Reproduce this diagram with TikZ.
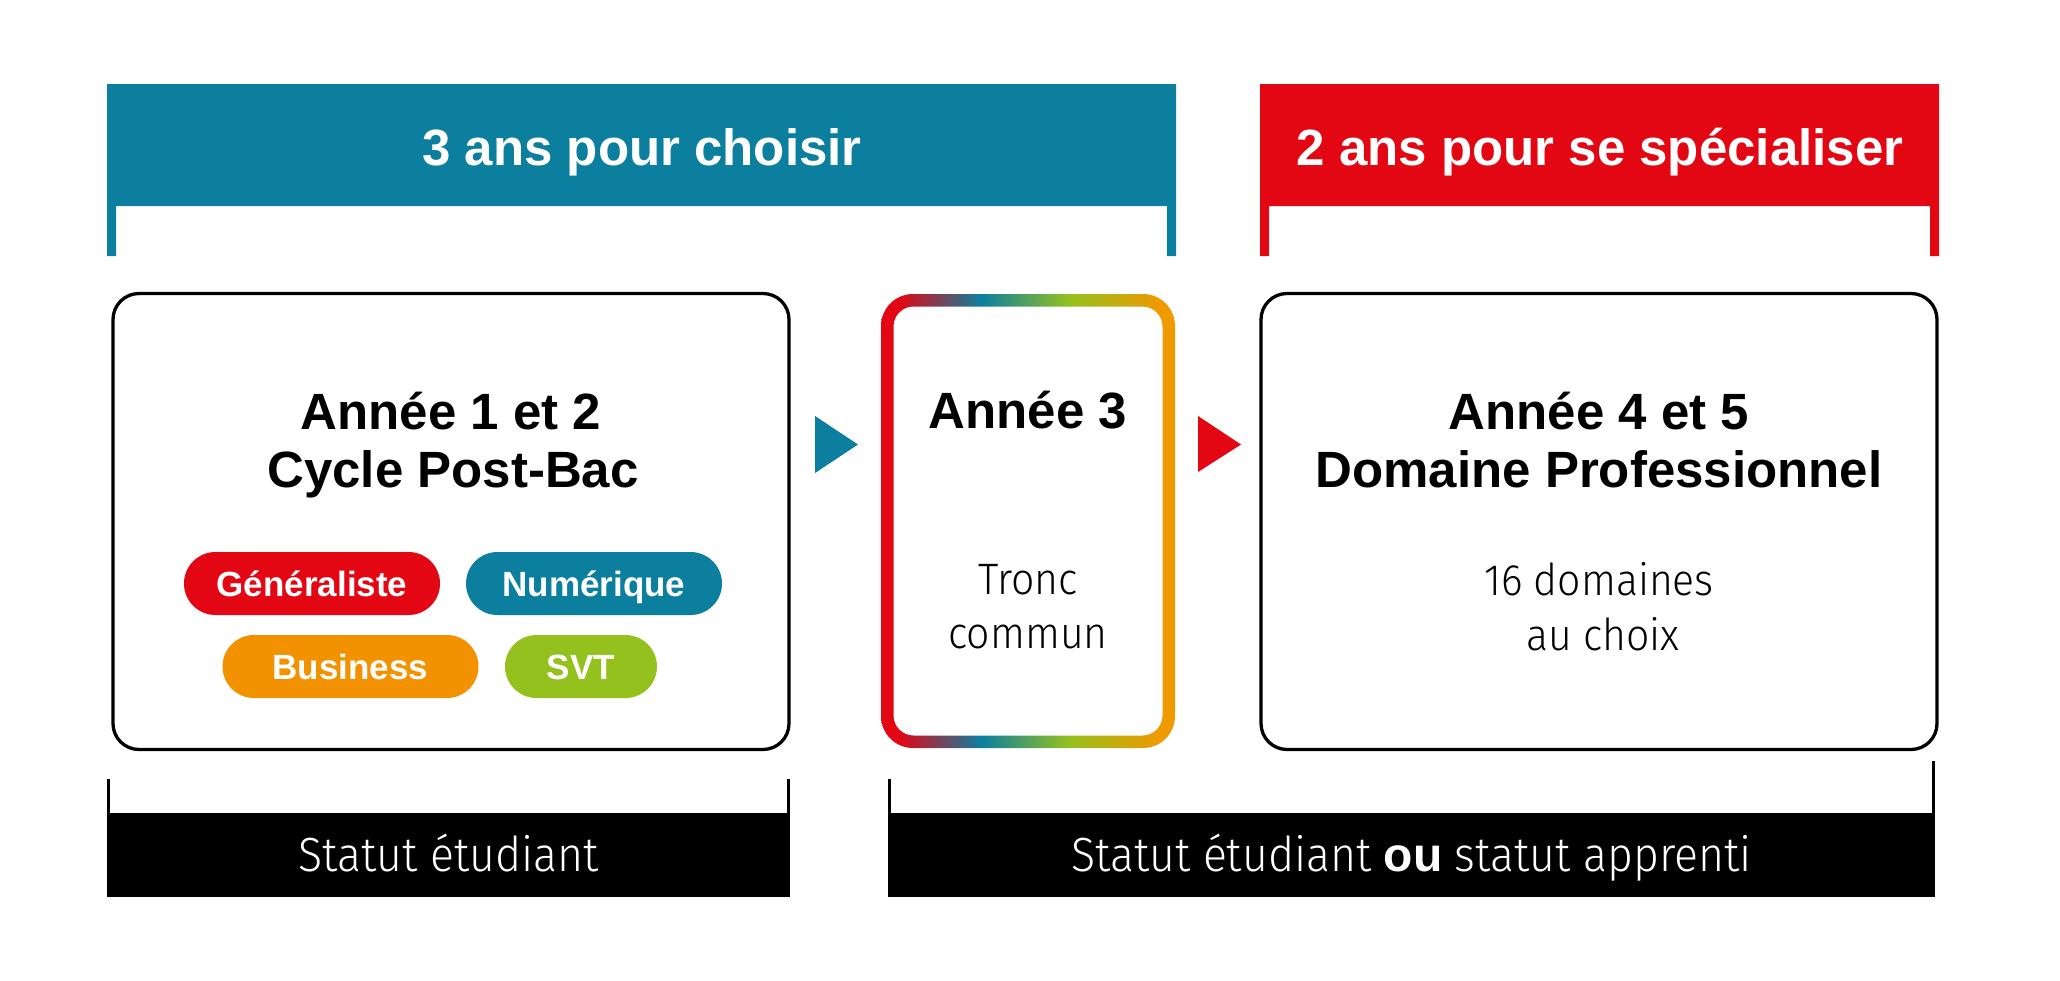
\documentclass[tikz,border=0pt]{standalone}
\usepackage{fontspec}
\setmainfont{Liberation Sans}
\IfFontExistsTF{Fira Sans Light}{\newfontfamily\lightfont{Fira Sans Light}[FakeStretch=0.93]}{\newfontfamily\lightfont{Liberation Sans}}
\usetikzlibrary{shapes.geometric}
\definecolor{cteal}{HTML}{0C7F9F}
\definecolor{cred}{HTML}{E30613}
\definecolor{corange}{HTML}{F39200}
\definecolor{cgreen}{HTML}{95C11F}
\definecolor{cringorange}{HTML}{EE9A00}
\pgfdeclarehorizontalshading{ringgrad}{100bp}{color(0bp)=(cred); color(28bp)=(cred); color(42bp)=(cteal); color(57bp)=(cgreen); color(72bp)=(cringorange); color(100bp)=(cringorange)}
\begin{document}
\begin{tikzpicture}[x=0.5pt,y=-0.5pt,
  titletext/.style={text=white, font=\bfseries\fontsize{25.5pt}{30pt}\selectfont, anchor=base, inner sep=0pt},
  heading/.style={font=\bfseries\fontsize{25.5pt}{29pt}\selectfont, anchor=base, inner sep=0pt},
  lighttext/.style={font=\lightfont\fontsize{22pt}{27pt}\selectfont, anchor=base, inner sep=0pt},
  pill/.style={rounded corners=15.75pt, minimum width=128pt, minimum height=31.5pt, text=white,
    font=\bfseries\fontsize{17.5pt}{20pt}\selectfont, inner sep=0pt, text height=12.5pt, text depth=0pt},
  yearbox/.style={draw=black, line width=1.65pt, rounded corners=13pt, minimum width=338pt, minimum height=228pt, inner sep=0pt},
  statusbar/.style={fill=black, text=white, font=\lightfont\fontsize{24pt}{28pt}\selectfont, minimum height=42pt,
    inner sep=0pt, text height=16.5pt, text depth=0pt},
  leg/.style={line width=1.75pt, draw=black}
]
\useasboundingbox (0,0) rectangle (2060,980);

% top brackets
\fill[cteal] (107,84) -- (1176,84) -- (1176,256) -- (1167,256) -- (1167,206) -- (116,206) -- (116,256) -- (107,256) -- cycle;
\node[titletext] (t1) at (642,165) {3 ans pour choisir};
\fill[cred] (1260,84) -- (1939,84) -- (1939,256) -- (1930,256) -- (1930,206) -- (1269,206) -- (1269,256) -- (1260,256) -- cycle;
\node[titletext] (t2) at (1600,165) {2 ans pour se spécialiser};

% year boxes
\node[yearbox] (y12) at (451,521.5) {};
\node[yearbox] (y45) at (1599,521.5) {};
\shade[shading=ringgrad, even odd rule]
  [rounded corners=16pt] (881,294) rectangle (1175,748)
  [rounded corners=10pt] (893.5,306.5) rectangle (1162.5,735.5);
\coordinate (y3) at (1028,521);

% texts
\node[heading] (h1a) at (451,429) {Année 1 et 2};
\node[heading] (h1b) at (453,487) {Cycle Post-Bac};
\node[heading] (h3) at (1028,428) {Année 3};
\node[lighttext] (l3a) at (1028,594) {Tronc};
\node[lighttext] (l3b) at (1028,648) {commun};
\node[heading] (h4a) at (1599,429) {Année 4 et 5};
\node[heading] (h4b) at (1599,487) {Domaine Professionnel};
\node[lighttext] (l4a) at (1599,595) {16 domaines};
\node[lighttext] (l4b) at (1603,650) {au choix};

% pills
\node[pill, fill=cred] (pg) at (312,583.5) {Généraliste};
\node[pill, fill=cteal] (pn) at (594,583.5) {Numérique};
\node[pill, fill=corange] (pb) at (350.5,666.5) {Business};
\node[pill, fill=cgreen, minimum width=76pt] (ps) at (581,666.5) {SVT};

% arrow markers
\fill[cteal] (815,416) -- (858,444.5) -- (815,473) -- cycle;
\fill[cred] (1198,416) -- (1241,444.5) -- (1198,472) -- cycle;

% bottom brackets
\node[statusbar, minimum width=341.5pt] (s1) at (448.5,855) {Statut étudiant};
\node[statusbar, minimum width=523.5pt] (s2) at (1411.5,855) {Statut étudiant {\bfseries\fontspec{Liberation Sans}ou} statut apprenti};
\draw[leg] ([xshift=0.875pt]s1.north west) -- ++(0,-34);
\draw[leg] ([xshift=-0.875pt]s1.north east) -- ++(0,-34);
\draw[leg] ([xshift=0.875pt]s2.north west) -- ++(0,-34);
\draw[leg] ([xshift=-0.875pt]s2.north east) -- ++(0,-52);
\end{tikzpicture}
\end{document}
